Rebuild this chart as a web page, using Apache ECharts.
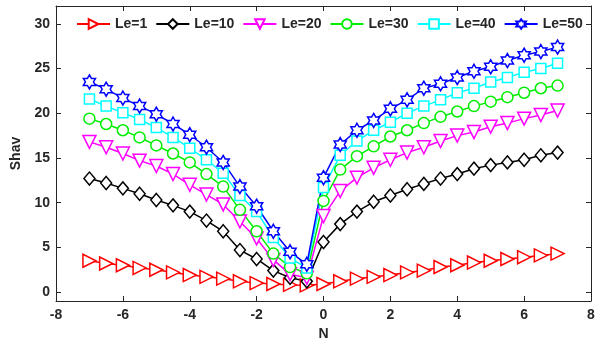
<!DOCTYPE html>
<html>
<head>
<meta charset="utf-8">
<script src="https://cdn.jsdelivr.net/npm/echarts@6/dist/echarts.min.js"></script>
<style>
  html, body { margin: 0; padding: 0; background: #ffffff; }
  #chart { width: 599px; height: 340px; }
</style>
</head>
<body>
<div id="chart"></div>
<script>
// Sample positions N
var nValues = [-7, -6.5, -6, -5.5, -5, -4.5, -4, -3.5, -3, -2.5, -2, -1.5, -1, -0.5,
               0, 0.5, 1, 1.5, 2, 2.5, 3, 3.5, 4, 4.5, 5, 5.5, 6, 6.5, 7];

// Shav for each Le
var le1  = [3.5, 3.2, 3.0, 2.7, 2.5, 2.2, 1.9, 1.7, 1.5, 1.2, 1.0, 0.9, 0.8, 0.75,
            0.9, 1.2, 1.5, 1.7, 1.9, 2.2, 2.4, 2.8, 3.0, 3.3, 3.5, 3.7, 3.9, 4.1, 4.3];
var le10 = [12.7, 12.2, 11.6, 11.0, 10.3, 9.7, 9.0, 8.0, 6.8, 4.7, 3.7, 2.4, 1.6, 1.2,
            5.6, 7.6, 9.0, 10.1, 10.8, 11.5, 12.1, 12.7, 13.2, 13.8, 14.2, 14.5, 14.8, 15.3, 15.6];
var le20 = [16.8, 16.2, 15.5, 14.7, 14.1, 13.2, 12.0, 10.9, 9.8, 7.9, 6.0, 3.6, 2.0, 1.6,
            8.5, 11.3, 12.8, 13.9, 14.8, 15.6, 16.2, 16.9, 17.5, 17.9, 18.5, 18.9, 19.4, 19.8, 20.3];
var le30 = [19.4, 18.8, 18.1, 17.3, 16.4, 15.5, 14.5, 13.2, 11.8, 9.2, 6.8, 4.3, 2.8, 2.1,
            10.2, 13.7, 15.2, 16.3, 17.4, 18.1, 18.9, 19.6, 20.2, 20.8, 21.3, 21.8, 22.3, 22.8, 23.1];
var le40 = [21.6, 20.8, 20.05, 19.3, 18.4, 17.3, 16.1, 14.8, 13.3, 10.8, 9.0, 6.1, 3.8, 2.7,
            11.7, 15.3, 16.9, 18.1, 19.0, 20.0, 20.8, 21.5, 22.3, 22.8, 23.5, 24.0, 24.6, 25.0, 25.6];
var le50 = [23.5, 22.7, 21.7, 20.8, 19.9, 18.8, 17.6, 16.2, 14.5, 11.8, 9.6, 6.8, 4.5, 3.1,
            12.8, 16.5, 18.1, 19.2, 20.5, 21.5, 22.8, 23.3, 24.0, 24.7, 25.2, 25.9, 26.5, 26.9, 27.4];

var seriesNames = ['Le=1', 'Le=10', 'Le=20', 'Le=30', 'Le=40', 'Le=50'];

var xTicks = [-8, -6, -4, -2, 0, 2, 4, 6, 8];
var yTicks = [0, 5, 10, 15, 20, 25, 30];

// six-pointed star outline
var hexagram = 'path://M50,0 L64.43,25 L93.3,25 L78.87,50 L93.3,75 L64.43,75 L50,100 L35.57,75 L6.7,75 L21.13,50 L6.7,25 L35.57,25 Z';

var FONT = 'Liberation Sans, Arial, sans-serif';
var AXIS_COLOR = '#262626';

function pairs(ys) {
  return nValues.map(function (x, i) { return [x, ys[i]]; });
}

function lineSeries(name, ys, color, symbol, size, rotate) {
  return {
    name: name,
    type: 'line',
    data: pairs(ys),
    symbol: symbol,
    symbolSize: size,
    symbolRotate: rotate || 0,
    symbolKeepAspect: true,
    showAllSymbol: true,
    lineStyle: { color: color, width: 1.5 },
    itemStyle: { color: '#ffffff', borderColor: color, borderWidth: 1.5 },
    emphasis: { disabled: true },
    animation: false,
    z: 3
  };
}

var chart = echarts.init(document.getElementById('chart'), null, { renderer: 'canvas' });

var tickStyle = { inside: true, length: 5, lineStyle: { color: AXIS_COLOR, width: 1 } };
var lineStyleAxis = { show: true, onZero: false, lineStyle: { color: AXIS_COLOR, width: 1 } };
var labelStyle = { color: AXIS_COLOR, fontFamily: FONT, fontWeight: 'bold', fontSize: 14 };

chart.setOption({
  backgroundColor: '#ffffff',
  animation: false,
  grid: { left: 56, right: 8, top: 6, bottom: 39, containLabel: false, outerBoundsMode: 'none' },
  legend: {
    data: seriesNames,
    top: 17,
    left: 76,
    itemWidth: 33,
    itemHeight: 12,
    itemGap: 8,
    padding: 0,
    textStyle: { color: AXIS_COLOR, fontFamily: FONT, fontWeight: 'bold', fontSize: 14 }
  },
  xAxis: [
    {
      type: 'value', min: -8, max: 8, interval: 2, position: 'bottom',
      name: 'N', nameLocation: 'middle', nameGap: 24,
      nameTextStyle: { color: AXIS_COLOR, fontFamily: FONT, fontWeight: 'bold', fontSize: 14 },
      axisLine: lineStyleAxis,
      axisTick: Object.assign({ customValues: xTicks }, tickStyle),
      axisLabel: Object.assign({ margin: 7, customValues: xTicks }, labelStyle),
      splitLine: { show: false }
    },
    {
      type: 'value', min: -8, max: 8, interval: 2, position: 'top',
      axisLine: lineStyleAxis,
      axisTick: Object.assign({ customValues: xTicks }, tickStyle),
      axisLabel: { show: false },
      splitLine: { show: false }
    }
  ],
  yAxis: [
    {
      type: 'value', min: -1, max: 32, position: 'left',
      name: 'Shav', nameLocation: 'middle', nameGap: 29, nameRotate: 90,
      nameTextStyle: { color: AXIS_COLOR, fontFamily: FONT, fontWeight: 'bold', fontSize: 14 },
      axisLine: lineStyleAxis,
      axisTick: Object.assign({ customValues: yTicks }, tickStyle),
      axisLabel: Object.assign({ margin: 6, customValues: yTicks }, labelStyle),
      splitLine: { show: false }
    },
    {
      type: 'value', min: -1, max: 32, position: 'right',
      axisLine: lineStyleAxis,
      axisTick: Object.assign({ customValues: yTicks }, tickStyle),
      axisLabel: { show: false },
      splitLine: { show: false }
    }
  ],
  series: [
    lineSeries('Le=1',  le1,  '#ff0000', 'triangle', 13, -90),
    lineSeries('Le=10', le10, '#000000', 'diamond', [11, 13]),
    lineSeries('Le=20', le20, '#ff00ff', 'triangle', 13, 180),
    lineSeries('Le=30', le30, '#00ee00', 'circle', 11),
    lineSeries('Le=40', le40, '#00ffff', 'rect', 10),
    lineSeries('Le=50', le50, '#0000ff', hexagram, 14)
  ]
});
</script>
</body>
</html>
